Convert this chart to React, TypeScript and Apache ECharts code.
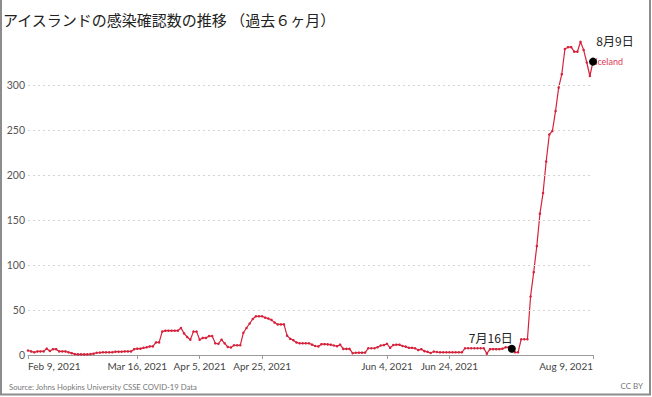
import React, { useEffect, useRef } from 'react';
import * as echarts from 'echarts';

// Daily values, Feb 9 → Aug 9 2021 (one value per day)
const feb = [5, 4, 3, 4, 4, 4, 7, 4.5, 6.5, 6.5, 4, 4, 4, 3, 2, 1, 0.7, 0.7, 0.7, 0.7];
const mar = [1, 1.5, 2.5, 2.7, 3, 3, 3, 3, 3.7, 3.7, 3.7, 4, 4, 4, 6.5, 7, 7, 8, 8.5, 9.5, 9.5, 14, 14, 26, 27, 27, 27, 27, 27, 30, 24];
const apr = [20, 17, 26, 26, 17, 19, 19, 21, 21, 13, 12.5, 17, 13, 9, 8.3, 10.8, 10.8, 10.8, 24.7, 30, 35, 40, 43, 43, 43, 41.5, 40.5, 39, 36, 34];
const may = [34, 34, 21.5, 18, 16.5, 14, 13, 13, 13, 13, 11.5, 10, 9.5, 12, 12, 11.8, 11.5, 10.6, 9.8, 11.5, 6.8, 6.8, 6.8, 2, 2.5, 2.6, 2.6, 2.7, 7.5, 7.5, 7.5];
const jun = [8.7, 10.6, 11, 12.5, 8, 11, 11.5, 11.5, 10, 9.3, 8, 8, 7.4, 5.5, 6.5, 4.3, 3.5, 2.2, 3.8, 3.3, 3, 3, 3, 3, 3, 3, 3, 3, 7.5, 7.5];
const jul = [7.5, 7.5, 7.5, 7.5, 7.5, 1.5, 6.5, 6.5, 6.5, 6.5, 7, 8.5, 8.5, 7, 3, 3, 17.5, 17.5, 17.5, 65, 92, 121, 157, 180, 215, 245, 249, 271, 297, 312, 340];
const aug = [342, 342, 337, 337, 348, 339, 325, 310, 326];

const values = [...feb, ...mar, ...apr, ...may, ...jun, ...jul, ...aug];

const tickDays = [0, 35, 55, 75, 115, 135, 181];
const tickLabels = ['Feb 9, 2021', 'Mar 16, 2021', 'Apr 5, 2021', 'Apr 25, 2021', 'Jun 4, 2021', 'Jun 24, 2021', 'Aug 9, 2021'];
const yTicks = [0, 50, 100, 150, 200, 250, 300];
const gridValues = [50, 100, 150, 200, 250, 300];

const annotationDays = [155, 181];
const annotationLabels = ['7月16日', '8月9日'];
const annotationOffsets = [[-21, 0], [22, -10]];

const RED = '#d6213b';

export default function App() {
  const ref = useRef<HTMLDivElement>(null);
  useEffect(() => {
    document.body.style.margin = '0';
    if (!ref.current) return;
    const chart = echarts.init(ref.current, null, { renderer: 'svg' });
    chart.setOption({
      animation: false,
      title: {
        text: 'アイスランドの感染確認数の推移 （過去６ヶ月）',
        left: 3,
        top: 12,
        padding: 0,
        textStyle: { fontFamily: 'Noto Sans CJK JP', fontSize: 15, fontWeight: 'normal', color: '#222' },
      },
      grid: { left: 28, right: 59, top: 40, bottom: 42 },
      xAxis: {
        type: 'value',
        min: 0,
        max: 181,
        splitLine: { show: false },
        axisLine: { show: true, lineStyle: { color: '#9a9a9a', width: 1 } },
        axisTick: { show: true, customValues: tickDays, length: 4, lineStyle: { color: '#9a9a9a' } },
        axisLabel: {
          customValues: tickDays,
          formatter: (v: number) => {
            const i = tickDays.indexOf(Math.round(v));
            return i >= 0 ? tickLabels[i] : '';
          },
          fontFamily: 'Lato',
          fontSize: 10,
          color: '#444',
          margin: 6,
          alignMinLabel: 'left',
          alignMaxLabel: 'right',
        },
      },
      yAxis: {
        type: 'value',
        min: 0,
        max: 350,
        interval: 50,
        axisLine: { show: false },
        axisTick: { show: false },
        splitLine: { show: false },
        axisLabel: {
          customValues: yTicks,
          formatter: (v: number) => (v > 300 ? '' : String(v)),
          fontFamily: 'Lato',
          fontSize: 10.5,
          color: '#555',
          margin: 3,
        },
      },
      graphic: [
        {
          type: 'rect',
          silent: true,
          z: -10,
          shape: { x: 1, y: -5, width: 649, height: 399.5 },
          style: { fill: 'none', stroke: '#8c8c8c', lineWidth: 2 },
        },
        {
          type: 'text',
          left: 9,
          top: 383,
          style: { text: 'Source: Johns Hopkins University CSSE COVID-19 Data', fill: '#777', font: '7.7px Lato' },
        },
        {
          type: 'text',
          right: 9,
          top: 382,
          style: { text: 'CC BY', fill: '#777', font: '8px Lato' },
        },
      ],
      series: [
        {
          type: 'line',
          z: 2,
          data: values.map((v, i) => [i, v]),
          color: RED,
          lineStyle: { color: RED, width: 1.2 },
          symbol: 'circle',
          symbolSize: 2.5,
          showSymbol: true,
          itemStyle: { color: RED },
          endLabel: {
            show: true,
            formatter: 'Iceland',
            color: '#e03a52',
            fontFamily: 'Lato',
            fontSize: 9,
            distance: 2,
          },
          markLine: {
            silent: true,
            symbol: ['none', 'none'],
            label: { show: false },
            lineStyle: { color: '#d4d4d4', type: [2, 3], width: 1 },
            data: gridValues.map((g) => ({ yAxis: g })),
          },
        },
        {
          type: 'scatter',
          z: 5,
          symbolSize: 8,
          itemStyle: { color: '#000', opacity: 1 },
          data: annotationDays.map((d, i) => ({
            value: [d, values[d]],
            label: {
              show: true,
              position: 'top',
              distance: 1,
              offset: annotationOffsets[i],
              formatter: annotationLabels[i],
              fontFamily: 'Noto Sans CJK JP',
              fontSize: 12,
              color: '#222',
            },
          })),
        },
      ],
    });
    return () => chart.dispose();
  }, []);
  return <div ref={ref} style={{ width: 652, height: 397 }} />;
}
